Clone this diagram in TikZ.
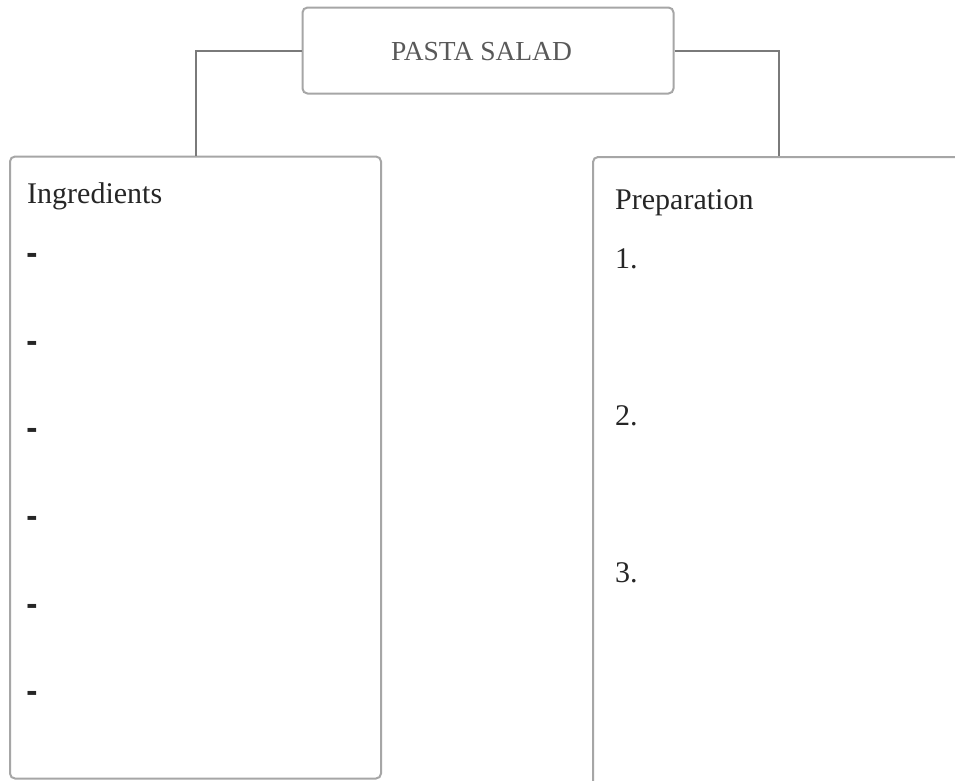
\documentclass[tikz,border=0pt]{standalone}
\usepackage{fontspec}
\setmainfont{Liberation Serif}
\newfontfamily\dashfont{DejaVu Sans}
\begin{document}
\begin{tikzpicture}[x=1pt,y=-1pt,
  boxstyle/.style={draw=black!35,line width=2pt,rounded corners=5pt,fill=white,inner sep=0pt},
  link/.style={draw=black!52,line width=2pt},
  bodytext/.style={anchor=base west,inner sep=0pt,text=black!85,font=\fontsize{30}{36}\selectfont},
  dashtext/.style={anchor=base west,inner sep=0pt,text=black!85,font=\dashfont\bfseries\fontsize{28}{34}\selectfont}]
\useasboundingbox (0,0) rectangle (955,780);
\clip (0,0) rectangle (955,780);
\fill[white] (0,0) rectangle (955,780);
\node[boxstyle,minimum width=371pt,minimum height=86pt] (title) at (488,50.5) {};
\node[text=black!65,font=\fontsize{27.5}{33}\selectfont] (titletext) at (481.5,52) {PASTA SALAD};
\node[boxstyle,minimum width=371pt,minimum height=622pt] (ing) at (195.5,467.5) {};
\node[boxstyle,minimum width=371pt,minimum height=660pt] (prep) at (778.5,487) {};
\draw[link] (title.west) -| (ing.north);
\draw[link] (title.east) -| (prep.north);
\node[bodytext] (inghead) at (27,203) {Ingredients};
\node[dashtext] (d1) at (26,263.5) {-};
\node[dashtext] (d2) at (26,351) {-};
\node[dashtext] (d3) at (26,438.5) {-};
\node[dashtext] (d4) at (26,526.5) {-};
\node[dashtext] (d5) at (26,614) {-};
\node[dashtext] (d6) at (26,701.5) {-};
\node[bodytext] (prephead) at (615,209) {Preparation};
\node[bodytext] (p1) at (615,268) {1.};
\node[bodytext] (p2) at (615,425) {2.};
\node[bodytext] (p3) at (615,582) {3.};
\end{tikzpicture}
\end{document}
